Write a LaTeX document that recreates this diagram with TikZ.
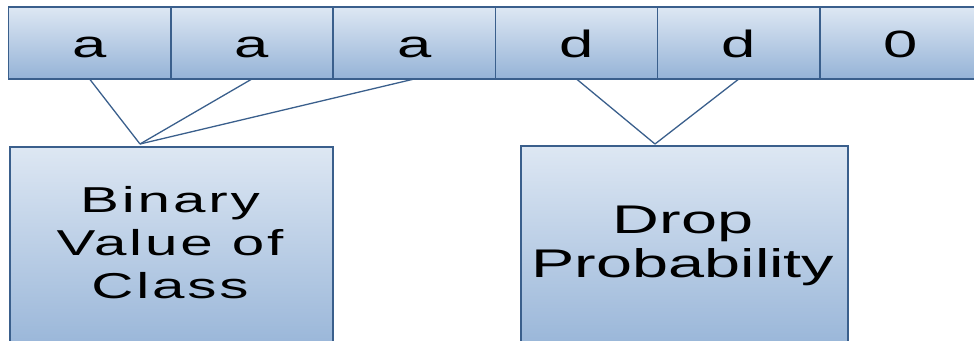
\documentclass[tikz,border=0pt]{standalone}
\usepackage{fontspec}
\setmainfont{Liberation Sans}[FakeStretch=1.62]
\usetikzlibrary{positioning}

\definecolor{edgeblue}{RGB}{58,95,140}
\definecolor{filltop}{RGB}{221,231,243}
\definecolor{fillbot}{RGB}{149,179,215}

\tikzset{
  field/.style={rectangle, draw=edgeblue, line width=1.6pt, top color=filltop, bottom color=fillbot,
    minimum width=162.3pt, minimum height=72pt, inner sep=0pt, outer sep=0pt,
    font=\fontsize{38}{40}\selectfont, text height=28pt, text depth=0pt},
  infobox/.style={rectangle, draw=edgeblue, line width=1.6pt, top color=filltop, bottom color=fillbot,
    anchor=north west, inner sep=0pt, outer sep=0pt},
  link/.style={draw=edgeblue, line width=1.3pt},
}

\begin{document}
\begin{tikzpicture}[x=1pt, y=-1pt]
    \useasboundingbox (0,0) rectangle (974,340);
    \clip (0,0) rectangle (974,340);

    % Header fields
    \node (c1) [field] at (89.6,43) {a};
    \node (c2) [field, right=0pt of c1] {a};
    \node (c3) [field, right=0pt of c2] {a};
    \node (c4) [field, right=0pt of c3] {d};
    \node (c5) [field, right=0pt of c4] {d};
    \node (c6) [field, right=0pt of c5] {0};

    % Meaning boxes
    \node (cls) [infobox, minimum width=323pt, minimum height=213pt] at (10,147) {};
    \node (drop) [infobox, minimum width=327pt, minimum height=213pt] at (521,146) {};
    \node (clstext) [align=center, inner sep=0pt,
      font=\fontsize{36}{43}\selectfont\addfontfeature{LetterSpace=8}] at (170,243) {Binary\\Value of\\Class};
    \node (droptext) [align=center, inner sep=0pt, font=\fontsize{40}{44}\selectfont] at (683,245.5) {Drop\\Probability};

    % Fan-in points
    \coordinate (clstip) at (140,144);
    \coordinate (droptip) at (655,144);

    % Links
    \draw[link] (c1.south) -- (clstip);
    \draw[link] (c2.south) -- (clstip);
    \draw[link] (c3.south) -- (clstip);
    \draw[link] (c4.south) -- (droptip);
    \draw[link] (c5.south) -- (droptip);
\end{tikzpicture}
\end{document}
